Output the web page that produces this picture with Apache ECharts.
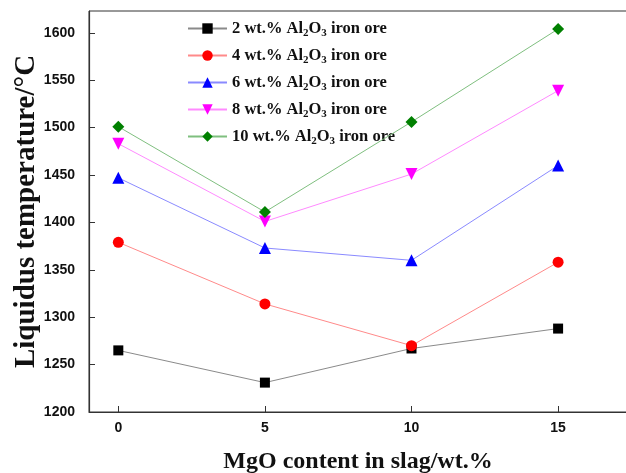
<!DOCTYPE html>
<html><head><meta charset="utf-8">
<script src="https://cdn.jsdelivr.net/npm/echarts@6/dist/echarts.min.js"></script>
<style>html,body{margin:0;padding:0;background:#fff}#c{width:626px;height:473px}</style>
</head><body><div id="c"></div>
<script>
const mgo = [0, 5, 10, 15];
const xTicks = [0, 5, 10, 15];
const al2 = [1265, 1231, 1267, 1288];
const al4 = [1379, 1314, 1270, 1358];
const al6 = [1447, 1373, 1360, 1460];
const al8 = [1483, 1401, 1451, 1539];
const al10 = [1501, 1411, 1506, 1604];
const seriesNames = ['2', '4', '6', '8', '10'];
const seriesData = [al2, al4, al6, al8, al10];
const markerColors = ['#000000', '#ff0000', '#0000ff', '#ff00ff', '#008000'];
const lineColors = ['#8a8a8a', '#ff8a8a', '#8a8aff', '#ff8aff', '#7fbf7f'];
const symbols = ['rect', 'circle', 'triangle', 'path://M0,0 L10,0 L5,9 Z', 'diamond'];
const symbolSizes = [10, 11, 12, 12, 12];

const chart = echarts.init(document.getElementById('c'), null, {renderer: 'canvas'});
const series = seriesNames.map((n, i) => ({
  name: n,
  type: 'line',
  data: mgo.map((x, j) => [x, seriesData[i][j]]),
  symbol: symbols[i],
  symbolSize: symbolSizes[i],
  showAllSymbol: true,
  itemStyle: {color: markerColors[i]},
  lineStyle: {color: lineColors[i], width: 1},
  emphasis: {disabled: true},
  z: 2 + i
}));

chart.setOption({
  animation: false,
  backgroundColor: '#fff',
  grid: {left: 89, top: 11, right: -1, bottom: 61, show: true, borderColor: '#333', borderWidth: 1,
    containLabel: false, outerBoundsMode: 'none'},
  legend: {
    left: 182, top: 15, orient: 'vertical', itemGap: 8, itemWidth: 39, itemHeight: 13,
    data: seriesNames,
    formatter: n => '{b|' + n + ' wt.% Al}{s|2}{b|O}{s|3}{b| iron ore}',
    textStyle: {
      rich: {
        b: {fontFamily: 'Liberation Serif', fontWeight: 'bold', fontSize: 16.5, color: '#111'},
        s: {fontFamily: 'Liberation Serif', fontWeight: 'bold', fontSize: 11, color: '#111', padding: [10, 0, 0, 0]}
      }
    }
  },
  xAxis: {
    type: 'value', min: -1, max: 17.35,
    name: 'MgO content in slag/wt.%', nameLocation: 'middle', nameGap: 38, nameMoveOverlap: false,
    nameTextStyle: {fontFamily: 'Liberation Serif', fontWeight: 'bold', fontSize: 24, color: '#111'},
    axisLine: {onZero: false, lineStyle: {color: '#333', width: 1.2}},
    axisTick: {inside: true, length: 6, lineStyle: {color: '#333'}, customValues: xTicks},
    axisLabel: {customValues: xTicks, fontFamily: 'Liberation Sans', fontWeight: 'bold', fontSize: 14, color: '#111', margin: 9},
    splitLine: {show: false}
  },
  yAxis: {
    type: 'value', min: 1200, max: 1623, interval: 50,
    name: 'Liquidus temperature/°C', nameLocation: 'middle', nameGap: 48, nameMoveOverlap: false,
    nameTextStyle: {fontFamily: 'Liberation Serif', fontWeight: 'bold', fontSize: 29, color: '#111'},
    axisLine: {onZero: false, lineStyle: {color: '#333', width: 1.2}},
    axisTick: {inside: true, length: 6, lineStyle: {color: '#333'}},
    axisLabel: {formatter: v => String(v), fontFamily: 'Liberation Sans', fontWeight: 'bold', fontSize: 14, color: '#111', margin: 14,
      showMaxLabel: false},
    splitLine: {show: false}
  },
  series: series
});
</script></body></html>
